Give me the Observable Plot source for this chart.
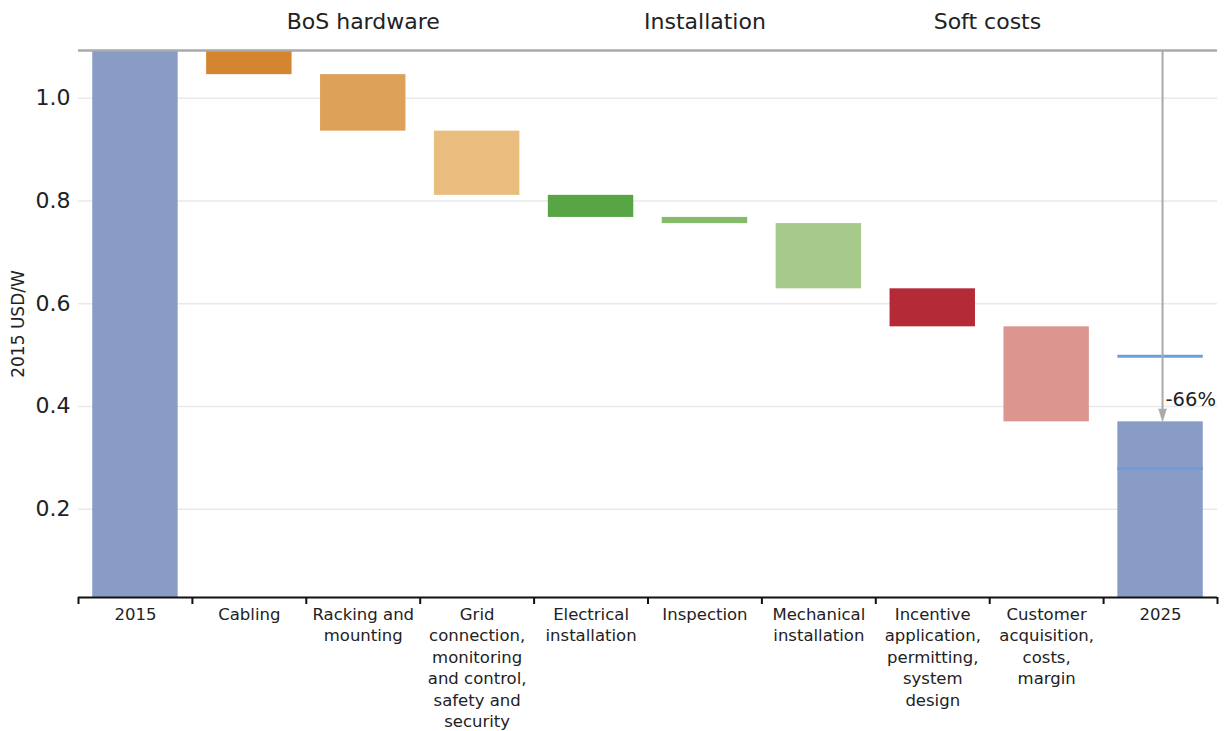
<!DOCTYPE html>
<html>
<head>
<meta charset="utf-8">
<script src="https://cdn.jsdelivr.net/npm/d3@7"></script>
<script src="https://cdn.jsdelivr.net/npm/@observablehq/plot@0.6"></script>
<style>
  html, body { margin: 0; padding: 0; background: #fff; }
  #chart svg { display: block; }
</style>
</head>
<body>
<div id="chart"></div>
<script>
// ---- data ----
const categories = [
  "2015",
  "Cabling",
  "Racking and\nmounting",
  "Grid\nconnection,\nmonitoring\nand control,\nsafety and\nsecurity",
  "Electrical\ninstallation",
  "Inspection",
  "Mechanical\ninstallation",
  "Incentive\napplication,\npermitting,\nsystem\ndesign",
  "Customer\nacquisition,\ncosts,\nmargin",
  "2025"
];
const startValue = 1.093;            // 2015 total, USD/W
const deltas = [-0.047, -0.110, -0.125, -0.043, -0.012, -0.127, -0.074, -0.185];
const barColors = ["#889cc6", "#d4852f", "#dea15a", "#e8bd7e", "#58a545", "#84ba6a", "#a6ca8c", "#b42a36", "#dc958f", "#889cc6"];
const benchmarkLines = [0.4975, 0.279]; // light blue markers on 2025 bar
const changeLabel = "-66%";
const changeLabelY = 0.413;
const groupLabels = ["BoS hardware", "Installation", "Soft costs"];
const groupAnchors = ["Racking and\nmounting", "Inspection", "Incentive\napplication,\npermitting,\nsystem\ndesign"];
const groupShift = [0, 0, 0.48]; // in category steps
const yTicks = [0.2, 0.4, 0.6, 0.8, 1.0];
const yMin = 0.028;

// ---- build waterfall rows ----
const rows = [];
let run = startValue;
rows.push({cat: categories[0], y1: 0, y2: startValue, fill: barColors[0]});
deltas.forEach((d, i) => {
  rows.push({cat: categories[i + 1], y1: run, y2: run + d, fill: barColors[i + 1]});
  run += d;
});
rows.push({cat: categories[categories.length - 1], y1: 0, y2: run, fill: barColors[barColors.length - 1]});
const endValue = run;

const W = 1224, H = 731, mL = 78, mR = 7, mT = 50, mB = 134;
const step = (W - mL - mR) / categories.length;
const font = "DejaVu Sans, sans-serif";
const last = categories[categories.length - 1];

const marks = [
  Plot.ruleY(yTicks, {stroke: "#e9e9e9", strokeWidth: 1.5}),
  Plot.barY([rows[0], rows[rows.length - 1]], {x: "cat", y1: "y1", y2: "y2", fill: "fill", clip: true}),
  Plot.barY(rows.slice(1, -1), {x: "cat", y1: "y1", y2: "y2", fill: "fill"}),
  Plot.tickY(benchmarkLines, {x: () => last, y: d => d, stroke: "#6a9fdc", strokeWidth: 3}),
  Plot.ruleY([startValue], {stroke: "#aaaaaa", strokeWidth: 2.5}),
  // change arrow: shaft + filled spike head
  Plot.ruleX([last], {x: d => d, y1: () => startValue, y2: () => endValue, insetBottom: 10, dx: 2, stroke: "#aaaaaa", strokeWidth: 2}),
  Plot.vector([last], {x: d => d, y: () => endValue, dx: 2, rotate: 180, length: 13, r: 4, anchor: "end",
    shape: "spike", fill: "#aaaaaa", stroke: "#aaaaaa", strokeWidth: 0.5}),
  Plot.text([changeLabel], {
    x: () => last, y: () => changeLabelY, text: d => d,
    dx: 5, textAnchor: "start", fontSize: 19.5, fill: "#222", fontFamily: font
  }),
  Plot.ruleY([yMin], {stroke: "#111", strokeWidth: 2}),
  Plot.ruleX(categories, {x: d => d, dx: -step / 2, y1: () => yMin, y2: () => yMin, insetBottom: -7, stroke: "#111", strokeWidth: 2}),
  Plot.ruleX([last], {x: d => d, dx: step / 2, y1: () => yMin, y2: () => yMin, insetBottom: -7, stroke: "#111", strokeWidth: 2}),
  ...groupLabels.map((g, i) => Plot.text([g], {
    x: () => groupAnchors[i], y: () => startValue, text: d => d,
    dx: groupShift[i] * step, dy: -29, fontSize: 22, fill: "#222", fontFamily: font
  })),
  Plot.axisX({tickSize: 0, tickPadding: 7, fontSize: 16.5, lineHeight: 1.3, fill: "#222", label: null, fontFamily: font}),
  Plot.axisY(yTicks, {tickSize: 0, tickPadding: 8, fontSize: 22, fill: "#222", tickFormat: d3.format(".1f"),
    label: null, fontFamily: font}),
  Plot.axisY({ticks: [], label: "2015 USD/W", labelAnchor: "center", labelArrow: "none", labelOffset: 67,
    fontSize: 17, fill: "#222", fontFamily: font})
];

const chart = Plot.plot({
  width: W, height: H,
  marginLeft: mL, marginRight: mR, marginTop: mT, marginBottom: mB,
  style: {fontFamily: font, fontSize: "18px", color: "#222", background: "#fff"},
  x: {type: "band", domain: categories, paddingInner: 0.25, paddingOuter: 0.125, round: false},
  y: {domain: [yMin, startValue]},
  marks
});
document.getElementById("chart").append(chart);
</script>
</body>
</html>
